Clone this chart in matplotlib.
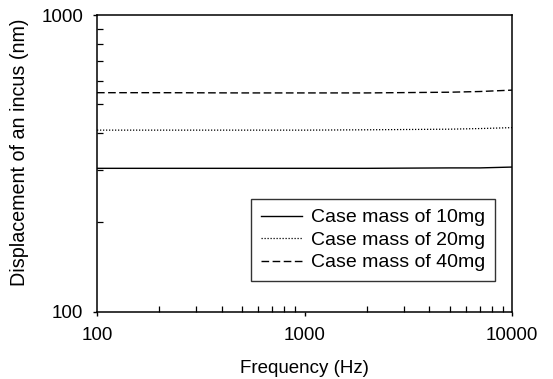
import numpy as np
import matplotlib
matplotlib.use('Agg')
import matplotlib.pyplot as plt
from matplotlib.ticker import LogLocator, NullFormatter, FixedLocator, FixedFormatter

plt.rcParams['font.family'] = ['Liberation Sans', 'DejaVu Sans']

# frequency (Hz) and incus displacement (nm)
freq = [100, 200, 500, 1000, 2000, 5000, 7000, 10000]
disp_10mg = [304, 304, 304, 304, 304, 305, 305, 307]
disp_20mg = [409, 409, 409, 409, 410, 412, 414, 417]
disp_40mg = [547, 547, 546, 546, 546, 549, 552, 558]

labels = ['Case mass of 10mg', 'Case mass of 20mg', 'Case mass of 40mg']
x_ticks = [100, 1000, 10000]
y_ticks = [100, 1000]

fig = plt.figure(figsize=(5.53, 3.79), dpi=100)
ax = fig.add_axes([97 / 553, (379 - 311.5) / 379, 415 / 553, 296.5 / 379])

ax.plot(freq, disp_10mg, color='black', lw=1.0, ls='-', label=labels[0])
ax.plot(freq, disp_20mg, color='black', lw=0.9, ls=(0, (1, 1.4)), label=labels[1])
ax.plot(freq, disp_40mg, color='black', lw=1.0, ls=(0, (5.5, 2.5)), label=labels[2])

ax.set_xscale('log')
ax.set_yscale('log')
ax.set_xlim(100, 10000)
ax.set_ylim(100, 1000)

ax.xaxis.set_major_locator(FixedLocator(x_ticks))
ax.xaxis.set_major_formatter(FixedFormatter([str(v) for v in x_ticks]))
ax.yaxis.set_major_locator(FixedLocator(y_ticks))
ax.yaxis.set_major_formatter(FixedFormatter([str(v) for v in y_ticks]))
ax.xaxis.set_minor_locator(LogLocator(base=10, subs=np.arange(2, 10)))
ax.yaxis.set_minor_locator(LogLocator(base=10, subs=np.arange(2, 10)))
ax.xaxis.set_minor_formatter(NullFormatter())
ax.yaxis.set_minor_formatter(NullFormatter())

ax.tick_params(which='major', direction='out', length=3, width=1, labelsize=13.5, pad=8.5)
ax.tick_params(which='minor', direction='in', length=4.5, width=0.9)
ax.tick_params(axis='y', which='major', pad=7)
ax.tick_params(top=False, right=False, which='both')
for s in ax.spines.values():
    s.set_linewidth(1.1)

ax.set_xlabel('Frequency (Hz)', fontsize=13.5, labelpad=11)
fig.text(20 / 553, 1 - 152 / 379, 'Displacement of an incus (nm)', rotation=90,
         ha='center', va='center', fontsize=14.2)

leg = ax.legend(loc='upper left', bbox_to_anchor=(0.371, 0.379), borderaxespad=0,
                fontsize=14, frameon=True, fancybox=False, edgecolor='black',
                handlelength=2.1, handletextpad=0.5, borderpad=0.5, labelspacing=0.25)
leg.get_frame().set_linewidth(1.0)

fig.savefig('out.png', dpi=100)
